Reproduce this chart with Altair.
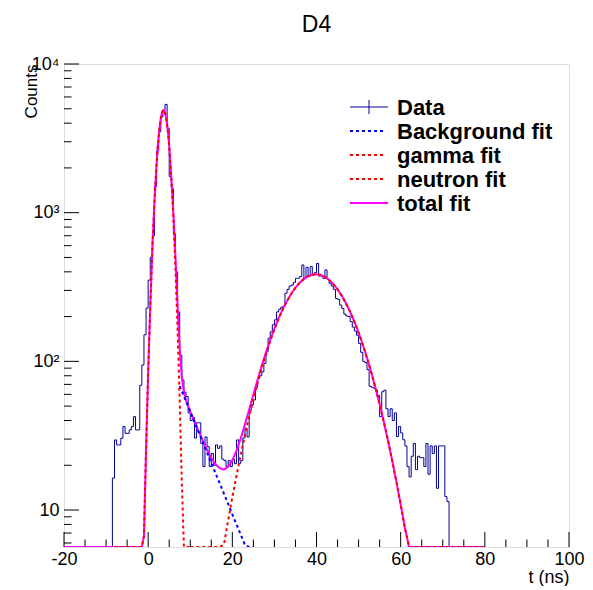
import altair as alt
import pandas as pd

# ---------------- data ----------------
hist_start = -8.5      # left edge of first filled bin (ns)
hist_width = 0.5       # bin width (ns)
hist_counts = [
    16.4, 29.6, 27.4, 27.4, 30.4, 36.4, 32.8, 32.8, 34.6, 36.4,
    42.5, 34.6, 34.6, 69, 94.5, 151, 228, 352, 501, 700,
    1500, 2600, 3500, 4400, 4800, 5350, 3700, 1750, 1450, 720,
    400, 215, 110, 75, 62, 58, 45, 40, 42, 30.5,
    38.6, 38.6, 28, 19.6, 31, 26.7, 19.6, 24, 20, 27.4,
    26, 27, 22, 21.5, 19.6, 21.5, 19.6, 22, 20.5, 29.6,
    20.6, 21.5, 30.5, 35.5, 31, 47, 51, 55, 67, 77,
    80, 85, 97, 116, 143, 158, 176, 190, 215, 224,
    231, 235, 287, 305, 321, 326, 340, 362, 362, 372,
    445, 362, 429, 372, 434, 381, 395, 456, 375, 375,
    362, 412, 357, 335, 321, 305, 265, 261, 239, 227,
    208, 202, 200, 185, 170, 160, 150, 132, 115, 100,
    98, 88, 68, 67, 66, 64, 59, 42.5, 62.5, 64,
    48, 42.5, 48, 40, 45, 31.2, 36.5, 33, 29.7, 27,
    19.6, 16.7, 23, 28, 18.7, 23, 22.5, 22.5, 19.6, 28,
    17.4, 27, 24, 27, 14, 27, 27, 27, 12.3, 11.4,
]

bg_t = [7.5, 8, 9, 10, 11, 12, 13, 14, 15, 16, 17, 18, 19, 20, 21, 22, 23, 24, 25]
bg_v = [68.2, 63.0, 53.8, 45.9, 39.1, 33.4, 28.5, 24.3, 20.7, 17.7, 15.1, 12.9,
        11.0, 9.36, 7.99, 6.82, 5.81, 4.96, 4.23]

gamma_t = [-8, -1.5, -1.0, -0.5, 0.0, 0.5, 1.0, 1.5, 2.0, 2.25, 2.5, 2.75, 3.0,
           3.25, 3.5, 3.75, 4.0, 4.25, 4.5, 4.75, 5.0, 5.5, 6.0, 6.5, 7.0, 7.5,
           8.0, 8.5, 9.0, 10]
gamma_v = [0.01, 1.5, 6.7, 25.6, 84, 237, 575, 1195, 2135, 2695, 3273, 3828, 4307,
           4666, 4866, 4885, 4720, 4390, 3930, 3388, 2810, 1724, 908, 411, 160, 53,
           15.2, 3.7, 0.79, 0.01]

neutron_t = [10, 17, 18, 19, 20, 21, 22, 23, 24, 25, 26, 27, 28, 29, 30, 31, 32,
             33, 34, 35, 36, 37, 38, 39, 40, 41, 42, 43, 44, 45, 46, 47, 48, 49,
             50, 51, 52, 53, 54, 55, 56, 57, 58, 59, 60, 61, 62, 63, 80]
neutron_v = [0.15, 3.95, 5.84, 8.5, 12.2, 17.1, 23.5, 31.9, 42.5, 55.6, 71.5, 90.5,
             112.3, 137, 164.4, 193.6, 224, 255, 285, 313, 338, 358.5, 373.6, 382.6,
             385, 380.6, 369.7, 352.9, 331, 305, 276.3, 245.9, 215, 184.7, 156,
             129.4, 105.5, 84.5, 66.5, 51.4, 39.1, 29.2, 21.4, 15.4, 10.9, 7.6,
             5.2, 3.5, 0.01]

total_t = [-20, -1.5, -1.0, -0.5, 0.0, 0.5, 1.0, 1.5, 2.0, 2.25, 2.5, 2.75, 3.0,
           3.25, 3.5, 3.75, 4.0, 4.25, 4.5, 4.75, 5.0, 5.5, 6.0, 6.5, 7.0, 7.5,
           8.0, 8.5, 9.0, 10, 11, 12, 13, 14, 15, 16, 17, 18, 19, 20, 21, 22, 23,
           24, 25, 26, 27, 28, 29, 30, 31, 32, 33, 34, 35, 36, 37, 38, 39, 40, 41,
           42, 43, 44, 45, 46, 47, 48, 49, 50, 51, 52, 53, 54, 55, 56, 57, 58, 59,
           60, 61, 62, 63, 80]
total_v = [0.01, 1.5, 6.7, 25.6, 84, 237, 575, 1195, 2135, 2695, 3273, 3828, 4307,
           4666, 4866, 4885, 4720, 4390, 3930, 3388, 2810, 1724, 995, 491, 234, 121,
           78, 62, 54.6, 46.1, 39.4, 33.8, 29.2, 25.4, 22.4, 20.3, 19.1, 18.7, 19.5,
           21.6, 25.1, 30.3, 37.7, 47.5, 59.8, 75.1, 93.6, 114.9, 139.2, 166.3,
           195.2, 225.4, 255, 285, 313, 338, 358.5, 373.6, 382.6, 385, 380.6, 369.7,
           352.9, 331, 305, 276.3, 245.9, 215, 184.7, 156, 129.4, 105.5, 84.5, 66.5,
           51.4, 39.1, 29.2, 21.4, 15.4, 10.9, 7.6, 5.2, 3.5, 0.01]

x_labels = [-20, 0, 20, 40, 60, 80, 100]
x_minor = [-15, -10, -5, 5, 10, 15, 25, 30, 35, 45, 50, 55, 65, 70, 75, 85, 90, 95]
y_major = [10, 100, 1000, 10000]
y_minor = [6, 7, 8, 9, 20, 30, 40, 50, 60, 70, 80, 90,
           200, 300, 400, 500, 600, 700, 800, 900,
           2000, 3000, 4000, 5000, 6000, 7000, 8000, 9000]

legend_labels = ["Data", "Background fit", "gamma fit", "neutron fit", "total fit"]
legend_colors = ["#000099", "#0000ff", "#ff0000", "#ff0000", "#ff00ff"]

# ---------------- build tables ----------------
floor_v = 0.01
ht, hv = [hist_start], [floor_v]
for k, c in enumerate(hist_counts):
    left = hist_start + k * hist_width
    ht += [left, left + hist_width]
    hv += [c, c]
ht.append(hist_start + len(hist_counts) * hist_width)
hv.append(floor_v)
hist_df = pd.DataFrame({"t": ht, "v": hv, "i": range(len(ht))})

W, H = 505, 483
PL = 56
FONT = "Liberation Sans"

xs = alt.Scale(domain=[-20, 100], nice=False, zero=False)
ys = alt.Scale(type="log", domain=[5.64, 10000], nice=False, clamp=True)

xaxis = alt.Axis(values=x_labels, ticks=False, domain=False, grid=False,
                 labelFlush=False, labelOverlap=False, labelFontSize=18,
                 labelFont=FONT, labelPadding=3, labelColor="black",
                 labelExpr="(datum.value < 0 ? '-' : '') + abs(datum.value)",
                 title="t (ns)", titleFont=FONT, titleFontSize=18,
                 titleFontWeight="normal", titleColor="black",
                 titleAlign="right", titleX=W, titleY=35,
                 titleBaseline="alphabetic")
yaxis = alt.Axis(values=y_major, ticks=False, domain=False, grid=False,
                 labelFlush=False, labelOverlap=False, labelFontSize=18,
                 labelFont=FONT, labelPadding=5, labelColor="black",
                 labelExpr="datum.value == 10 ? '10' : datum.value == 100 ? '10\u00b2' : datum.value == 1000 ? '10\u00b3' : '10\u2074'",
                 title="Counts", titleFont=FONT, titleFontSize=17,
                 titleFontWeight="normal", titleColor="black",
                 titleAngle=270, titleAlign="right", titleBaseline="middle",
                 titleX=-33, titleY=0)


def enc(chart):
    return chart.encode(x=alt.X("t:Q", scale=xs, axis=xaxis),
                        y=alt.Y("v:Q", scale=ys, axis=yaxis))


hist = enc(alt.Chart(hist_df).mark_line(color="#000099", strokeWidth=1, clip=True)).encode(
    order=alt.Order("i:Q"))


def curve(ts, vs, color, dash=None):
    df = pd.DataFrame({"t": ts, "v": vs})
    kw = dict(color=color, strokeWidth=2, clip=True)
    if dash:
        kw["strokeDash"] = dash
    return enc(alt.Chart(df).mark_line(**kw))


total = curve(total_t, total_v, "#ff00ff")
bg = curve(bg_t, bg_v, "#0000ff", [3, 3])
gam = curve(gamma_t, gamma_v, "#ff0000", [3, 3])
neu = curve(neutron_t, neutron_v, "#ff0000", [3, 3])

# inside ticks (ROOT style)
ymaj = alt.Chart(pd.DataFrame({"v": y_major})).mark_rule(color="black", strokeWidth=1).encode(
    y=alt.Y("v:Q", scale=ys, axis=yaxis), x=alt.value(0), x2=alt.value(15))
ymin_ = alt.Chart(pd.DataFrame({"v": y_minor})).mark_rule(color="black", strokeWidth=1).encode(
    y=alt.Y("v:Q", scale=ys, axis=yaxis), x=alt.value(0), x2=alt.value(7.5))
xmaj = alt.Chart(pd.DataFrame({"t": x_labels})).mark_rule(color="black", strokeWidth=1).encode(
    x=alt.X("t:Q", scale=xs, axis=xaxis), y=alt.value(H), y2=alt.value(H - 15))
xmin_ = alt.Chart(pd.DataFrame({"t": x_minor})).mark_rule(color="black", strokeWidth=1).encode(
    x=alt.X("t:Q", scale=xs, axis=xaxis), y=alt.value(H), y2=alt.value(H - 7.5))

# legend (manual, ROOT TLegend look)
one = pd.DataFrame({"a": [0]})
leg_layers = []
LX = 294 - PL  # symbol start, plot coords
for k, (lab, col) in enumerate(zip(legend_labels, legend_colors)):
    ry = 43 + 24 * k
    if k == 0:
        leg_layers.append(alt.Chart(one).mark_rule(color=col, strokeWidth=1).encode(
            x=alt.value(286), x2=alt.value(324), y=alt.value(ry)))
        leg_layers.append(alt.Chart(one).mark_rule(color=col, strokeWidth=1).encode(
            x=alt.value(305), y=alt.value(ry - 7), y2=alt.value(ry + 7)))
    elif lab == "total fit":
        leg_layers.append(alt.Chart(one).mark_rule(color=col, strokeWidth=2).encode(
            x=alt.value(286), x2=alt.value(324), y=alt.value(ry)))
    else:
        leg_layers.append(alt.Chart(one).mark_rule(color=col, strokeWidth=2, strokeDash=[3, 3]).encode(
            x=alt.value(286), x2=alt.value(322), y=alt.value(ry)))
    leg_layers.append(alt.Chart(one).mark_text(align="left", baseline="middle", font=FONT,
                                               fontSize=22, fontWeight="bold", color="black").encode(
        x=alt.value(333), y=alt.value(ry + 1), text=alt.value(lab)))

chart = alt.layer(hist, total, bg, gam, neu, ymaj, ymin_, xmaj, xmin_, *leg_layers).properties(
    width=W, height=H,
    title=alt.TitleParams("D4", font=FONT, fontSize=23, fontWeight="normal",
                          color="black", anchor="middle", offset=18),
    autosize=alt.AutoSizeParams(type="none"),
    padding={"left": PL, "top": 56, "right": 16, "bottom": 39},
).configure_view(stroke="black", strokeWidth=1).configure(background="white")

chart.save("out.html", embed_options={"renderer": "svg", "actions": False})
